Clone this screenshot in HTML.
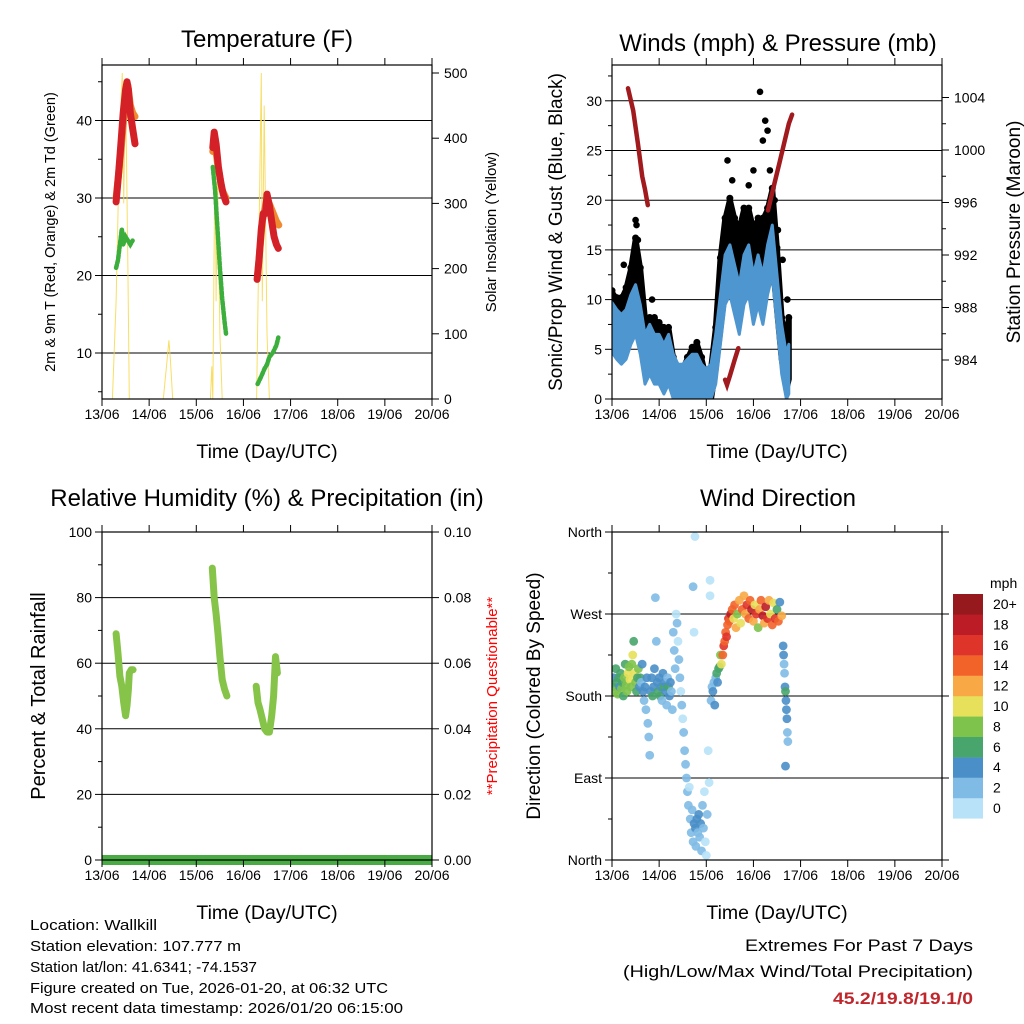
<!DOCTYPE html>
<html><head><meta charset="utf-8"><style>
html,body{margin:0;padding:0;background:#fff}
svg{display:block;font-family:"Liberation Sans",Arial,sans-serif}
</style></head><body>
<svg id="c" width="1024" height="1024" viewBox="0 0 1024 1024" xmlns="http://www.w3.org/2000/svg">
<g id="base"></g>
</svg>
<script>
// ---------- DATA ----------
const dayLabels=["13/06","14/06","15/06","16/06","17/06","18/06","19/06","20/06"];
const tempTicks=[10,20,30,40];
const solarTicks=[0,100,200,300,400,500];
const windTicks=[0,5,10,15,20,25,30];
const presTicks=[984,988,992,996,1000,1004];
const rhTicks=[0,20,40,60,80,100];
const precipTicks=["0.00","0.02","0.04","0.06","0.08","0.10"];
const dirLabels=["North","East","South","West","North"];
const speedLabels=["0","2","4","6","8","10","12","14","16","18","20+"];
const speedColors=["#b8e2f7","#80bbe6","#4a8fc8","#48a56c","#7ec34c","#e7e05a","#f8a945","#f2632a","#df3429","#bc1c26","#961a1d"];

const redT=[0.3,0.35,0.4,0.45,0.5,0.53,0.56,0.6,0.65,0.7,null,2.35,2.38,2.42,2.47,2.52,2.57,2.63,null,3.29,3.33,3.38,3.42,3.47,3.5,3.55,3.6,3.65,3.7,3.74];
const redV=[29.5,33,37,41,44,45,44,41,39,37,null,36.5,38.5,37,34,32,30.5,29.5,null,19.5,22,26,28,28,30.5,29,27,25,24,23.5];
const orangeT=[0.3,0.4,0.5,0.55,0.6,0.65,0.7,null,2.35,2.4,2.45,2.55,2.63,null,3.3,3.4,3.5,3.6,3.7,3.75];
const orangeV=[30,36,43,44.5,42,41,40.5,null,36,37,34.5,31,30,null,20,27,30,28.5,27,26.5];
const tdT=[0.3,0.34,0.38,0.42,0.45,0.5,0.55,0.6,0.65,null,2.35,2.4,2.45,2.5,2.55,2.6,2.63,null,3.3,3.38,3.45,3.5,3.55,3.62,3.7,3.74];
const tdV=[21,22,24,26,24,25,24.5,24,24.5,null,34,31,26,21,17,14,12.5,null,6,7,8,8.5,9.5,10,11,12];
const solT=[0.22,0.3,0.38,0.43,0.46,0.5,0.55,0.58,null,1.3,1.38,1.42,1.45,1.5,null,2.3,2.33,2.35,2.4,2.42,2.45,2.5,2.55,null,3.28,3.33,3.38,3.4,3.44,3.5,3.55];
const solV=[0,150,420,500,300,480,200,0,null,0,60,90,60,0,null,0,50,0,400,150,350,100,0,null,0,250,500,150,450,100,0];

const windT=[0,0.1,0.2,0.3,0.4,0.5,0.6,0.7,0.8,0.9,1.0,1.1,1.2,1.3,1.4,1.5,1.6,1.7,1.8,1.9,2.0,2.1,2.2,2.3,2.4,2.5,2.6,2.7,2.8,2.9,3.0,3.1,3.2,3.3,3.4,3.5,3.6,3.7,3.75];
const windV=[7.2,6.5,6,6.5,8,9,7,4,5,4,4,3,4,2,1,1,1.5,2,2,1,0.5,1,4,8,12,13,11,9,12,13,10,12,10,13,15,10,5,2,3];
const gustV=[10.7,10,10,11,13,16,13,8,8,8,7.5,7,7,4,3,3,4,5,5.5,4,2,3,7,14,18,20,18,17,19,19,17,18,18,19,21,15,8,6,8];
const gustExtraT=[0.5,0.52,0.55,0.25,0.85,2.45,2.55,2.9,3.0,3.14,3.2,3.25,3.3,3.35,3.45,3.52,3.62,3.72];
const gustExtraV=[18,17.5,16,13.5,10,24,22,21.5,23,30.9,26,28,27,23,20,17,14,10];
const presT=[0.34,0.45,0.55,0.64,0.7,0.76,null,2.4,2.44,2.5,2.6,2.68,null,3.31,3.45,3.55,3.65,3.75,3.82];
const presV=[1004.7,1003,1000.5,998,997,995.8,null,982.5,982.1,982.8,984,984.9,null,995.4,997.5,999,1000.5,1002,1002.7];

const rhT=[0.3,0.34,0.38,0.42,0.46,0.5,0.53,0.56,0.58,0.62,0.66,null,2.34,2.38,2.42,2.46,2.5,2.55,2.6,2.65,null,3.27,3.31,3.35,3.4,3.45,3.5,3.55,3.6,3.64,3.68,3.72];
const rhV=[69,63,56,53,48,44,47,52,57,58,58,null,89,80,75,69,62,55,52,50,null,53,48,46,43,40,39,39,44,50,62,57];
const precipT=[0,7];
const precipV=[0,0];

const dirT=[0.02,0.04,0.06,0.08,0.1,0.12,0.14,0.16,0.18,0.2,0.22,0.24,0.26,0.28,0.3,0.32,0.34,0.36,0.38,0.4,0.42,0.44,0.46,0.48,0.5,0.52,0.54,0.56,0.58,0.6,0.62,0.64,
0.66,0.68,0.7,0.72,0.74,0.76,0.78,0.8,0.82,0.84,0.86,0.88,0.9,0.92,0.94,0.96,0.98,1.0,1.02,1.04,1.06,1.08,1.1,1.12,1.14,1.16,1.18,1.2,1.22,1.24,1.26,1.28,1.3,1.32,1.34,
1.36,1.38,1.4,1.42,1.44,1.46,1.48,1.5,1.52,1.54,1.56,1.58,
1.6,1.62,1.64,1.66,1.68,1.7,1.72,1.74,1.76,1.77,1.78,1.8,1.82,1.84,1.86,1.88,1.9,1.92,1.94,1.96,1.98,2.0,2.02,2.04,2.06,1.72,1.74,
2.08,2.08,2.1,2.12,2.14,2.16,2.18,2.2,2.22,2.24,2.26,2.28,2.3,2.32,
2.35,2.37,2.39,2.41,2.43,2.45,2.47,2.49,
2.52,2.55,2.58,2.6,2.63,2.66,2.7,2.73,2.76,2.8,2.83,2.86,2.9,2.93,2.96,3.0,3.03,3.06,3.1,3.13,3.16,3.2,3.23,3.26,3.3,3.33,3.36,3.4,3.43,3.46,3.5,3.53,3.56,3.6,
3.63,3.64,3.65,3.66,3.67,3.68,3.69,3.7,3.71,3.72,3.73,3.68];
const dirV=[190,200,185,210,195,182,200,190,205,188,195,180,200,215,192,185,205,212,198,190,215,225,240,205,195,185,200,210,190,200,195,215,
185,175,190,165,200,150,135,115,185,200,180,190,210,288,240,195,185,200,180,190,175,205,190,195,185,170,200,190,180,195,185,165,250,230,210,
270,260,240,220,200,185,170,155,140,120,105,90,
75,60,80,45,30,55,20,40,355,35,15,45,30,50,25,40,10,60,35,75,20,5,50,120,85,300,250,
307,290,175,190,185,195,170,200,205,195,210,212,225,215,
225,235,240,250,245,258,265,262,
270,275,265,280,255,270,285,260,275,290,270,280,265,285,275,262,280,270,255,275,285,268,260,278,265,285,270,258,282,265,275,262,283,268,
235,225,215,205,190,185,175,165,155,140,130,103];
const dirS=[6,4,8,6,7,8,6,5,7,8,6,7,8,7,9,8,10,9,10,8,8,10,7,11,9,7,6,8,4,7,3,4,
4,2,4,2,5,2,2,3,4,4,6,5,4,2,2,5,6,4,6,5,3,4,6,4,5,2,3,6,4,5,3,2,2,2,2,
1,2,1,2,2,1,2,1,2,3,2,2,
3,2,1,2,3,2,2,4,1,5,2,4,3,4,2,4,2,2,3,1,1,1,2,1,1,2,1,
1,1,2,3,4,2,4,3,6,5,6,7,8,10,
14,16,14,15,16,14,16,15,
18,14,10,15,12,8,12,10,14,13,12,16,14,15,18,12,10,16,8,12,14,18,12,19,16,13,10,15,11,16,7,14,4,12,
4,4,3,3,4,6,5,4,4,2,2,4];

// ---------- HELPERS ----------
const svg=document.getElementById('c');
const NS="http://www.w3.org/2000/svg";
function mk(tag,attrs,parent,text){const e=document.createElementNS(NS,tag);for(const k in attrs)e.setAttribute(k,attrs[k]);if(text!==undefined)e.textContent=text;(parent||svg).appendChild(e);return e;}
const DAYW=330/7;
function path(ts,vs,fx,fy){let d="",pen=false;for(let i=0;i<ts.length;i++){if(ts[i]===null){pen=false;continue;}d+=(pen?"L":"M")+fx(ts[i]).toFixed(1)+" "+fy(vs[i]).toFixed(1);pen=true;}return d;}

function frame(x0,y0,y1,name){
  const g=mk('g',{});
  
  
  mk('rect',{x:x0,y:y0,width:330,height:y1-y0,fill:'none',stroke:'#000','stroke-width':1.2},g);
  for(let i=0;i<8;i++){const x=x0+i*DAYW;
    mk('line',{x1:x,x2:x,y1:y0,y2:y0-7,stroke:'#000','stroke-width':1},g);
    mk('line',{x1:x,x2:x,y1:y1,y2:y1+7,stroke:'#000','stroke-width':1},g);
    const t=mk('text',{x:x,y:y1+20,'font-size':14,'text-anchor':'middle'},g,dayLabels[i]);
    
    
  }
  const tt=mk('text',{x:x0+165,y:y1+59,'font-size':19.5,'text-anchor':'middle'},g,'Time (Day/UTC)');
  
  
  return g;
}
function leftTicks(x0,vals,fy,labels,grid,minor){
  vals.forEach((v,i)=>{const y=fy(v);
    if(grid)mk('line',{x1:x0,x2:x0+330,y1:y,y2:y,stroke:'#000','stroke-width':1});
    mk('line',{x1:x0,x2:x0-7,y1:y,y2:y,stroke:'#000'});
    const t=mk('text',{x:x0-10,y:y+5,'font-size':14,'text-anchor':'end'},svg,labels?labels[i]:v);
    
    
  });
  if(minor)minor.forEach(v=>mk('line',{x1:x0,x2:x0-4,y1:fy(v),y2:fy(v),stroke:'#000'}));
}
function rightTicks(x1,vals,fy,labels){
  vals.forEach((v,i)=>{const y=fy(v);
    mk('line',{x1:x1,x2:x1+7,y1:y,y2:y,stroke:'#000'});
    const t=mk('text',{x:x1+12,y:y+5,'font-size':14},svg,labels?labels[i]:v);
    
    
  });
}
function vtitle(x,y,txt,size,color,name){const t=mk('text',{x:x,y:y,'font-size':size,'text-anchor':'middle',fill:color||'#000',transform:`rotate(-90 ${x} ${y})`},svg,txt);
  
  }
function title(x,y,txt,name){const t=mk('text',{x:x,y:y,'font-size':24,'text-anchor':'middle'},svg,txt);
  
  }

// ---------- PANEL 1: TEMPERATURE ----------
{const X0=102,Y0=65,Y1=399;
 const fx=t=>X0+t*DAYW, fy=v=>353-(v-10)*7.75, fs=v=>399-v*0.652;
 leftTicks(X0,tempTicks,fy,null,true,[5,15,25,35,45]);
 rightTicks(X0+330,solarTicks,fs,null);
 const cp=mk('clipPath',{id:'cp1'});mk('rect',{x:X0,y:Y0,width:330,height:Y1-Y0},cp);
 const g=mk('g',{'clip-path':'url(#cp1)'});
 const s=mk('path',{d:path(solT,solV,fx,fs),fill:'none',stroke:'#f7d84a','stroke-width':1,opacity:0.85},g);
 
 
 const o=mk('path',{d:path(orangeT,orangeV,fx,fy),fill:'none',stroke:'#f08a30','stroke-width':7,'stroke-linecap':'round','stroke-linejoin':'round'},g);
 
 
 const r=mk('path',{d:path(redT,redV,fx,fy),fill:'none',stroke:'#d42027','stroke-width':7,'stroke-linecap':'round','stroke-linejoin':'round'},g);
 
 
 const d=mk('path',{d:path(tdT,tdV,fx,fy),fill:'none',stroke:'#3cae3c','stroke-width':4.5,'stroke-dasharray':'3 2','stroke-linecap':'round'},g);
 
 
 frame(X0,Y0,Y1,'temperature');
 title(267,47,'Temperature (F)','temperature-title');
 vtitle(55,232,'2m & 9m T (Red, Orange) & 2m Td (Green)',14.5,'#000','temp-y-axis-title');
 vtitle(496,232,'Solar Insolation (Yellow)',15,'#000','solar-y-axis-title');
}
// ---------- PANEL 2: WINDS ----------
{const X0=612,Y0=65,Y1=399;
 const fx=t=>X0+t*DAYW, fy=v=>399-v*9.94, fp=p=>360-(p-984)*13.125;
 leftTicks(X0,windTicks,fy,null,true,[2.5,7.5,12.5,17.5,22.5,27.5,32.5]);
 rightTicks(X0+330,presTicks,fp,null);
 [986,990,994,998,1002].forEach(p=>mk('line',{x1:X0+330,x2:X0+334,y1:fp(p),y2:fp(p),stroke:'#000'}));
 const cp=mk('clipPath',{id:'cp2'});mk('rect',{x:X0,y:Y0,width:330,height:Y1-Y0},cp);
 const g=mk('g',{'clip-path':'url(#cp2)'});
 let top="",bot="";
 for(let i=0;i<windT.length;i++){top+=(i?"L":"M")+fx(windT[i]).toFixed(1)+" "+fy(gustV[i]).toFixed(1);}
 for(let i=windT.length-1;i>=0;i--){bot+="L"+fx(windT[i]).toFixed(1)+" "+fy(Math.max(windV[i]-1,0)).toFixed(1);}
 const gb=mk('path',{d:top+bot+"Z",fill:'#000',stroke:'#000','stroke-width':6,'stroke-linejoin':'round'},g);
 
 
 windT.forEach((t,i)=>{const c=mk('circle',{cx:fx(t),cy:fy(gustV[i])-2,r:3.5,fill:'#000'},g);
   
   });
 gustExtraT.forEach((t,i)=>{const c=mk('circle',{cx:fx(t),cy:fy(gustExtraV[i]),r:3.3,fill:'#000'},g);
   
   });
 let wt="",wb="";
 for(let i=0;i<windT.length;i++){wt+=(i?"L":"M")+fx(windT[i]).toFixed(1)+" "+fy(windV[i]+2.5).toFixed(1);}
 for(let i=windT.length-1;i>=0;i--){wb+="L"+fx(windT[i]).toFixed(1)+" "+fy(Math.max(windV[i]-2.5,0)).toFixed(1);}
 const wbnd=mk('path',{d:wt+wb+"Z",fill:'#4e96cf',stroke:'#4e96cf','stroke-width':3,'stroke-linejoin':'round'},g);
 
 
 const pl=mk('path',{d:path(presT,presV,fx,fp),fill:'none',stroke:'#a01a1e','stroke-width':4.5,'stroke-linecap':'round'},g);
 
 
 frame(X0,Y0,Y1,'winds');
 title(778,51,'Winds (mph) & Pressure (mb)','winds-title');
 vtitle(562,232,'Sonic/Prop Wind & Gust (Blue, Black)',19,'#000','wind-y-axis-title');
 vtitle(1020,232,'Station Pressure (Maroon)',19,'#000','pressure-y-axis-title');
}
// ---------- PANEL 3: RH ----------
{const X0=102,Y0=532,Y1=860;
 const fx=t=>X0+t*DAYW, fy=v=>860-v*3.28, fpr=v=>860-v*3280;
 leftTicks(X0,rhTicks,fy,null,true,[10,30,50,70,90]);
 rightTicks(X0+330,rhTicks,fy,precipTicks);
 const cp=mk('clipPath',{id:'cp3'});mk('rect',{x:X0,y:Y0-2,width:330,height:Y1-Y0+8},cp);
 const g=mk('g',{'clip-path':'url(#cp3)'});
 const pr=mk('path',{d:path(precipT,precipV,fx,fpr),fill:'none',stroke:'#48ab44','stroke-width':10},g);
 
 
 const rh=mk('path',{d:path(rhT,rhV,fx,fy),fill:'none',stroke:'#86c449','stroke-width':7,'stroke-linecap':'round','stroke-linejoin':'round'},g);
 
 
 frame(X0,Y0,Y1,'humidity');
 title(267,506,'Relative Humidity (%) & Precipitation (in)','humidity-title');
 vtitle(45,696,'Percent & Total Rainfall',20,'#000','rh-y-axis-title');
 vtitle(497,696,'**Precipitation Questionable**',15,'#ff0000','precip-y-axis-title');
}
// ---------- PANEL 4: WIND DIRECTION ----------
{const X0=612,Y0=532,Y1=860;
 const fx=t=>X0+t*DAYW, fy=d=>860-d*0.9111;
 leftTicks(X0,[0,90,180,270,360],fy,dirLabels,true,[45,135,225,315]);
 [0,90,180,270,360].forEach(d=>mk('line',{x1:X0+330,x2:X0+337,y1:fy(d),y2:fy(d),stroke:'#000'}));
 const cp=mk('clipPath',{id:'cp4'});mk('rect',{x:X0,y:Y0,width:330,height:Y1-Y0},cp);
 const g=mk('g',{'clip-path':'url(#cp4)'});
 dirT.forEach((t,i)=>{const idx=Math.min(10,Math.floor(dirS[i]/2));
   const c=mk('circle',{cx:fx(t),cy:fy(dirV[i]),r:4.4,fill:speedColors[idx],opacity:0.9},g);
   
   });
 frame(X0,Y0,Y1,'direction');
 title(778,506,'Wind Direction','direction-title');
 vtitle(540,696,'Direction (Colored By Speed)',19,'#000','direction-y-axis-title');
 const lg=mk('g',{});
 
 
 mk('text',{x:990,y:588,'font-size':14},lg,'mph');
 for(let k=0;k<11;k++){const y=594+(10-k)*20.4;
   mk('rect',{x:953,y:y,width:30,height:20.6,fill:speedColors[k]},lg);
   mk('text',{x:993,y:y+15,'font-size':14},lg,speedLabels[k]);}
}
// ---------- FOOTER ----------
{const f=mk('g',{'font-size':15});
 
 
 const L=[["Location: Wallkill",930,127],["Station elevation: 107.777 m",951,211],["Station lat/lon: 41.6341; -74.1537",972,227],["Figure created on Tue, 2026-01-20, at 06:32 UTC",993,358],["Most recent data timestamp: 2026/01/20 06:15:00",1013,373]];
 L.forEach(l=>mk('text',{x:30,y:l[1],textLength:l[2],lengthAdjust:'spacingAndGlyphs'},f,l[0]));
 const e=mk('g',{'font-size':17,'text-anchor':'end'});
 
 
 mk('text',{x:973,y:951,textLength:228,lengthAdjust:'spacingAndGlyphs'},e,'Extremes For Past 7 Days');
 mk('text',{x:973,y:977,textLength:350,lengthAdjust:'spacingAndGlyphs'},e,'(High/Low/Max Wind/Total Precipitation)');
 mk('text',{x:973,y:1004,'font-weight':'bold',fill:'#c0272d',textLength:140,lengthAdjust:'spacingAndGlyphs'},e,'45.2/19.8/19.1/0');
}
</script>
</body></html>
